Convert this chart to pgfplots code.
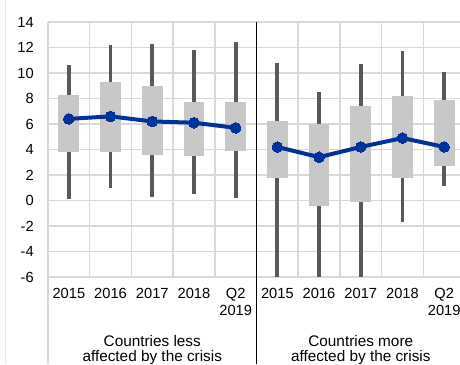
\documentclass[border=0pt]{standalone}
\usepackage{pgfplots}
\usepackage{pgfplotstable}
\pgfplotsset{compat=1.18}
\usepackage{fontspec}
\setmainfont{Liberation Sans}

\definecolor{boxgray}{HTML}{C8C8C8}
\definecolor{whisk}{HTML}{595959}
\definecolor{meanblue}{RGB}{0,51,153}
\definecolor{gridgray}{HTML}{D9D9D9}

% x lo q1 q3 hi mean
\pgfplotstableread{
x lo q1 q3 hi mean
0 0.1 3.8 8.3 10.6 6.4
1 1.0 3.8 9.3 12.2 6.6
2 0.3 3.6 9.0 12.3 6.2
3 0.5 3.5 7.7 11.8 6.1
4 0.2 3.9 7.7 12.4 5.7
}\lessdata
\pgfplotstableread{
x lo q1 q3 hi mean
5 -6.0 1.8 6.2 10.8 4.2
6 -6.0 -0.45 6.0 8.5 3.4
7 -6.0 -0.15 7.4 10.7 4.2
8 -1.7 1.8 8.2 11.7 4.9
9 1.1 2.7 7.9 10.1 4.2
}\moredata

\begin{document}
\begin{tikzpicture}
\useasboundingbox (0,0) rectangle (345pt,273pt);
\draw[color=black!10, line width=0.75pt] (3.75pt,0) -- (3.75pt,273pt);
\begin{axis}[
    at={(36pt,65.25pt)}, anchor=south west,
    scale only axis, width=309pt, height=191.25pt,
    xmin=-0.5, xmax=9.38, ymin=-6, ymax=14,
    axis line style={draw=none},
    tick style={draw=none},
    xtick={0,...,9},
    xticklabels={2015,2016,2017,2018,{Q2\\2019},2015,2016,2017,2018,{Q2\\2019}},
    minor xtick={-0.5,0.5,...,9.5},
    ytick={-6,-4,...,14},
    xmajorgrids=false, xminorgrids=true, ymajorgrids=true,
    grid style={draw=gridgray, line width=1.1pt},
    minor grid style={draw=gridgray, line width=1.1pt},
    /pgf/number format/assume math mode=true,
    ticklabel style={font=\fontsize{11}{13.3}\selectfont},
    yticklabel style={anchor=east, inner sep=0pt, xshift=-10.5pt},
    xticklabel style={anchor=north, align=center, inner sep=0pt, yshift=-8pt},
    clip=false,
]
\addplot[draw=none, mark=none, forget plot,
    error bars/.cd, y dir=both, y explicit, error mark=none,
    error bar style={draw=whisk, line width=2.8pt}]
    table[x=x, y=mean, y error plus expr=\thisrow{hi}-\thisrow{mean},
          y error minus expr=\thisrow{mean}-\thisrow{lo}] {\lessdata};
\addplot[draw=none, mark=none, forget plot,
    error bars/.cd, y dir=both, y explicit, error mark=none,
    error bar style={draw=whisk, line width=2.8pt}]
    table[x=x, y=mean, y error plus expr=\thisrow{hi}-\thisrow{mean},
          y error minus expr=\thisrow{mean}-\thisrow{lo}] {\moredata};
\addplot[draw=none, mark=none, forget plot,
    error bars/.cd, y dir=both, y explicit, error mark=none,
    error bar style={draw=boxgray, line width=15.6pt}]
    table[x=x, y=mean, y error plus expr=\thisrow{q3}-\thisrow{mean},
          y error minus expr=\thisrow{mean}-\thisrow{q1}] {\lessdata};
\addplot[draw=none, mark=none, forget plot,
    error bars/.cd, y dir=both, y explicit, error mark=none,
    error bar style={draw=boxgray, line width=15.6pt}]
    table[x=x, y=mean, y error plus expr=\thisrow{q3}-\thisrow{mean},
          y error minus expr=\thisrow{mean}-\thisrow{q1}] {\moredata};
\addplot[meanblue, line width=3pt, mark=*, mark size=4pt,
    mark options={fill=meanblue, draw=meanblue, line width=0pt}]
    table[x=x, y=mean] {\lessdata};
\addplot[meanblue, line width=3pt, mark=*, mark size=4pt,
    mark options={fill=meanblue, draw=meanblue, line width=0pt}]
    table[x=x, y=mean] {\moredata};
\coordinate (lft) at (axis cs:-0.5,14);
\coordinate (sep) at (axis cs:4.5,14);
\coordinate (gl) at (axis cs:2,-6);
\coordinate (gr) at (axis cs:7,-6);
\end{axis}
\draw[draw=gridgray, line width=1.1pt] (lft) -- (lft |- 0,0);
\draw[draw=black, line width=1.1pt] (sep) -- (sep |- 0,0);
\begin{scope}[every node/.style={anchor=base, inner sep=0pt,
    font=\fontsize{11.5}{13.8}\selectfont}]
\node at ([yshift=-52.25pt]gl) {Countries less};
\node at ([yshift=-63.4pt]gl) {affected by the crisis};
\node at ([yshift=-52.25pt]gr) {Countries more};
\node at ([yshift=-63.4pt]gr) {affected by the crisis};
\end{scope}
\end{tikzpicture}
\end{document}
